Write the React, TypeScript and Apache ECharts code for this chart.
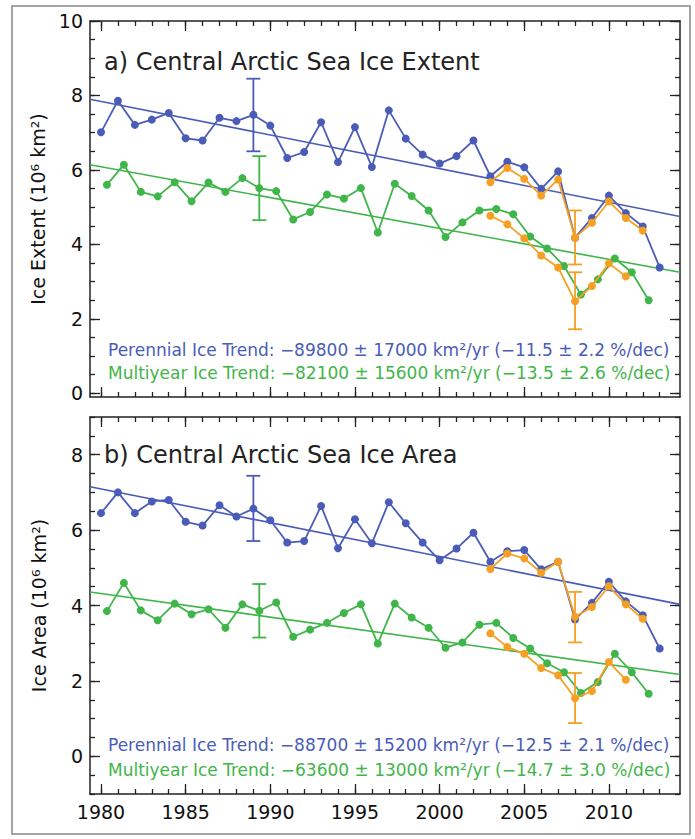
import { useEffect, useRef } from "react"
import * as echarts from "echarts"

const years = Array.from({ length: 34 }, (_, i) => 1980 + i)
const orangeYears = [2003, 2004, 2005, 2006, 2007, 2008, 2009, 2010, 2011, 2012]

// a) extent
const extPerennial = [7.01, 7.86, 7.21, 7.35, 7.53, 6.85, 6.79, 7.4, 7.31, 7.48, 7.19, 6.32, 6.48, 7.28, 6.21, 7.15, 6.08, 7.6, 6.84, 6.41, 6.17, 6.37, 6.79, 5.83, 6.22, 6.07, 5.49, 5.96, 4.18, 4.71, 5.31, 4.84, 4.48, 3.38]
const extMultiyear = [5.6, 6.14, 5.41, 5.29, 5.67, 5.16, 5.66, 5.41, 5.78, 5.51, 5.43, 4.67, 4.87, 5.34, 5.23, 5.51, 4.32, 5.63, 5.3, 4.91, 4.2, 4.59, 4.91, 4.95, 4.81, 4.21, 3.89, 3.42, 2.65, 3.06, 3.62, 3.25, 2.5]
const extOrangeP = [5.67, 6.05, 5.76, 5.31, 5.74, 4.18, 4.58, 5.15, 4.71, 4.37]
const extOrangeM = [4.77, 4.54, 4.16, 3.7, 3.38, 2.47, 2.88, 3.49, 3.14]
const extTrendP = [7.9, 4.75]
const extTrendM = [6.14, 3.25]
const extBarsBlue = [[1989, 6.5, 8.45]]
const extBarsGreen = [[1989, 4.65, 6.37]]
const extBarsOrange = [[2008, 3.46, 4.91], [2008, 1.72, 3.25]]

// b) area
const areaPerennial = [6.45, 7.0, 6.45, 6.76, 6.8, 6.22, 6.12, 6.66, 6.36, 6.57, 6.26, 5.67, 5.71, 6.64, 5.52, 6.29, 5.65, 6.74, 6.18, 5.67, 5.2, 5.51, 5.93, 5.16, 5.44, 5.47, 4.96, 5.16, 3.63, 4.07, 4.63, 4.11, 3.74, 2.86]
const areaMultiyear = [3.85, 4.6, 3.87, 3.61, 4.05, 3.77, 3.9, 3.41, 4.03, 3.86, 4.08, 3.17, 3.36, 3.54, 3.8, 4.03, 2.99, 4.05, 3.68, 3.41, 2.88, 3.02, 3.49, 3.54, 3.14, 2.86, 2.47, 2.23, 1.68, 1.97, 2.72, 2.23, 1.66]
const areaOrangeP = [4.97, 5.38, 5.25, 4.87, 5.16, 3.7, 3.96, 4.51, 4.03, 3.65]
const areaOrangeM = [3.26, 2.9, 2.72, 2.34, 2.15, 1.54, 1.73, 2.5, 2.03]
const areaTrendP = [7.15, 4.03]
const areaTrendM = [4.36, 2.17]
const areaBarsBlue = [[1989, 5.71, 7.44]]
const areaBarsGreen = [[1989, 3.15, 4.57]]
const areaBarsOrange = [[2008, 3.02, 4.36], [2008, 0.88, 2.21]]

const xTickLabels = [1980, 1985, 1990, 1995, 2000, 2005, 2010]
const X_MIN = 1979.35
const X_MAX = 2014.2
const GREEN_SHIFT = 0.35

const BLUE = "#4a5cb8"
const GREEN = "#3fb54a"
const ORANGE = "#f5a023"
const FONT = "DejaVu Sans"

export default function App() {
  const ref = useRef<HTMLDivElement>(null)

  useEffect(() => {
    if (!ref.current) return
    const chart = echarts.init(ref.current, null, { renderer: "svg" })

    const grids = [
      { left: 90, top: 21, width: 590, height: 376, yMin: -0.1, yMax: 10, labels: [0, 2, 4, 6, 8, 10] },
      { left: 90, top: 417, width: 590, height: 377, yMin: -1.0, yMax: 9, labels: [0, 2, 4, 6, 8] },
    ]
    const yMinor = (lo: number, hi: number) => {
      const v: number[] = []
      for (let t = Math.ceil(lo * 2) / 2; t <= hi; t += 0.5) v.push(t)
      return v
    }

    const xAxis: any[] = []
    const yAxis: any[] = []
    grids.forEach((g, gi) => {
      ;["bottom", "top"].forEach((pos) => {
        ;[
          { vals: years, len: 5 },
          { vals: xTickLabels, len: 10 },
        ].forEach((t, k) => {
          xAxis.push({
            type: "value",
            gridIndex: gi,
            position: pos,
            min: X_MIN,
            max: X_MAX,
            splitLine: { show: false },
            axisLine: { show: k === 0, onZero: false, lineStyle: { color: "#222", width: 1.5 } },
            axisTick: { inside: true, length: t.len, customValues: t.vals, lineStyle: { color: "#222", width: 1.3 } },
            axisLabel: {
              show: gi === 1 && pos === "bottom" && k === 1,
              customValues: xTickLabels,
              formatter: (v: number) => String(v),
              color: "#111",
              fontSize: 19,
              fontFamily: FONT,
              margin: 8,
            },
          })
        })
      })
      ;["left", "right"].forEach((pos) => {
        ;[
          { vals: yMinor(g.yMin, g.yMax), len: 5 },
          { vals: g.labels, len: 10 },
        ].forEach((t, k) => {
          yAxis.push({
            type: "value",
            gridIndex: gi,
            position: pos,
            min: g.yMin,
            max: g.yMax,
            splitLine: { show: false },
            axisLine: { show: k === 0, onZero: false, lineStyle: { color: "#222", width: 1.5 } },
            axisTick: { inside: true, length: t.len, customValues: t.vals, lineStyle: { color: "#222", width: 1.3 } },
            axisLabel: {
              show: pos === "left" && k === 1,
              customValues: g.labels,
              formatter: (v: number) => String(v),
              color: "#111",
              fontSize: 19,
              fontFamily: FONT,
              margin: 7,
            },
            name: pos === "left" && k === 1 ? (gi === 0 ? "Ice Extent (10⁶ km²)" : "Ice Area (10⁶ km²)") : "",
            nameLocation: "middle",
            nameGap: 42,
            nameTextStyle: { color: "#111", fontSize: 19, fontFamily: FONT },
          })
        })
      })
    })
    const xi = (gi: number) => gi * 4
    const yi = (gi: number) => gi * 4

    const lineSeries = (gi: number, xs: number[], ys: number[], color: string, shift = 0) => ({
      type: "line",
      xAxisIndex: xi(gi),
      yAxisIndex: yi(gi),
      data: ys.map((v, i) => [xs[i] + shift, v]),
      symbol: "circle",
      symbolSize: 8,
      itemStyle: { color },
      lineStyle: { color, width: 1.8 },
      z: color === ORANGE ? 4 : 3,
    })
    const trendSeries = (gi: number, ends: number[], color: string) => ({
      type: "line",
      xAxisIndex: xi(gi),
      yAxisIndex: yi(gi),
      data: [[X_MIN, ends[0]], [X_MAX, ends[1]]],
      symbol: "none",
      lineStyle: { color, width: 1.6 },
      z: 2,
    })
    const barSeries = (gi: number, bars: number[][], color: string, shift = 0) => ({
      type: "custom",
      xAxisIndex: xi(gi),
      yAxisIndex: yi(gi),
      data: bars.map((b) => [b[0] + shift, b[1], b[2]]),
      z: 5,
      renderItem: (_p: any, api: any) => {
        const lo = api.coord([api.value(0), api.value(1)])
        const hi = api.coord([api.value(0), api.value(2)])
        const w = 7
        const st = { stroke: color, lineWidth: 1.8 }
        return {
          type: "group",
          children: [
            { type: "line", shape: { x1: lo[0], y1: lo[1], x2: hi[0], y2: hi[1] }, style: st },
            { type: "line", shape: { x1: lo[0] - w, y1: lo[1], x2: lo[0] + w, y2: lo[1] }, style: st },
            { type: "line", shape: { x1: hi[0] - w, y1: hi[1], x2: hi[0] + w, y2: hi[1] }, style: st },
          ],
        }
      },
    })

    const series: any[] = [
      trendSeries(0, extTrendP, BLUE),
      trendSeries(0, extTrendM, GREEN),
      lineSeries(0, years, extPerennial, BLUE),
      lineSeries(0, years, extMultiyear, GREEN, GREEN_SHIFT),
      lineSeries(0, orangeYears, extOrangeP, ORANGE),
      lineSeries(0, orangeYears, extOrangeM, ORANGE),
      barSeries(0, extBarsBlue, BLUE),
      barSeries(0, extBarsGreen, GREEN, GREEN_SHIFT),
      barSeries(0, extBarsOrange, ORANGE),
      trendSeries(1, areaTrendP, BLUE),
      trendSeries(1, areaTrendM, GREEN),
      lineSeries(1, years, areaPerennial, BLUE),
      lineSeries(1, years, areaMultiyear, GREEN, GREEN_SHIFT),
      lineSeries(1, orangeYears, areaOrangeP, ORANGE),
      lineSeries(1, orangeYears, areaOrangeM, ORANGE),
      barSeries(1, areaBarsBlue, BLUE),
      barSeries(1, areaBarsGreen, GREEN, GREEN_SHIFT),
      barSeries(1, areaBarsOrange, ORANGE),
    ]

    const txt = (x: number, y: number, text: string, fill: string, fontSize: number) => ({
      type: "text",
      x,
      y,
      style: { text, fill, fontSize, fontFamily: FONT, textVerticalAlign: "middle" },
      z: 10,
    })

    chart.setOption({
      animation: false,
      backgroundColor: "#fff",
      grid: grids.map((g) => ({ left: g.left, top: g.top, width: g.width, height: g.height })),
      xAxis,
      yAxis,
      series,
      graphic: [
        { type: "rect", shape: { x: 12, y: 6, width: 678, height: 828 }, style: { fill: "none", stroke: "#888", lineWidth: 1.5 } },
        txt(104, 62, "a) Central Arctic Sea Ice Extent", "#222", 24),
        txt(104, 455, "b) Central Arctic Sea Ice Area", "#222", 24),
        txt(108, 350, "Perennial Ice Trend: −89800 ± 17000 km²/yr (−11.5 ± 2.2 %/dec)", BLUE, 17),
        txt(108, 373, "Multiyear Ice Trend: −82100 ± 15600 km²/yr (−13.5 ± 2.6 %/dec)", GREEN, 17),
        txt(108, 745, "Perennial Ice Trend: −88700 ± 15200 km²/yr (−12.5 ± 2.1 %/dec)", BLUE, 17),
        txt(108, 770, "Multiyear Ice Trend: −63600 ± 13000 km²/yr (−14.7 ± 3.0 %/dec)", GREEN, 17),
      ],
    })

    return () => chart.dispose()
  }, [])

  return <div ref={ref} style={{ position: "absolute", left: 0, top: 0, width: 695, height: 839 }} />
}
